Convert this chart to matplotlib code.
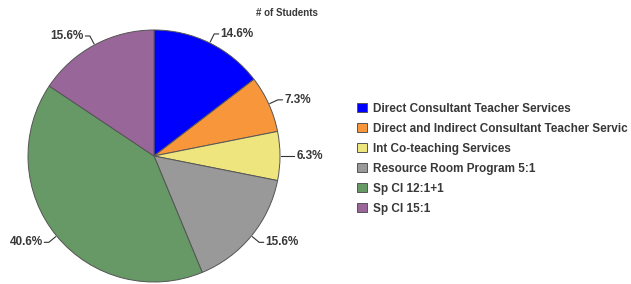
import matplotlib.pyplot as plt
import numpy as np

plt.rcParams['font.family'] = ['Liberation Sans', 'DejaVu Sans']

categories = ["Direct Consultant Teacher Services",
              "Direct and Indirect Consultant Teacher Servic",
              "Int Co-teaching Services",
              "Resource Room Program 5:1",
              "Sp Cl 12:1+1",
              "Sp Cl 15:1"]
students = [14, 7, 6, 15, 39, 15]
colors = ["#0000ff", "#f7963a", "#efe57f", "#999999", "#669966", "#996699"]

W, H = 631, 284
cx, cy, r = 154, 156, 126
fig = plt.figure(figsize=(W / 100, H / 100), dpi=100)
ax = fig.add_axes([(cx - r) / W, (H - cy - r) / H, 2 * r / W, 2 * r / H])

wedges, _ = ax.pie(students, colors=colors, startangle=90, counterclock=False,
                   radius=1, wedgeprops=dict(edgecolor="#555555", linewidth=0.7))
ax.set_xlim(-1, 1)
ax.set_ylim(-1, 1)
ax.axis('off')

txtcol = "#383838"
total = sum(students)
for w, v in zip(wedges, students):
    ang = np.deg2rad((w.theta1 + w.theta2) / 2)
    c, s = np.cos(ang), np.sin(ang)
    side = 1 if c >= 0 else -1
    x0, y0 = 1.01 * c, 1.01 * s
    x1, y1 = 1.08 * c, 1.08 * s
    x2 = x1 + 0.035 * side
    ax.plot([x0, x1, x2], [y0, y1, y1], color="#333333", lw=0.8, clip_on=False)
    pct = round(100.0 * v / total + 1e-9, 1)
    ax.text(x2 + 0.015 * side, y1, "%.1f%%" % pct,
            ha="left" if side > 0 else "right", va="center",
            fontsize=8.5, fontweight="bold", color=txtcol)

fig.text(318 / W, 1 - 13 / H, "# of Students", ha="right", va="center",
         fontsize=7, fontweight="bold", color=txtcol)

leg = fig.legend(wedges, categories, loc="upper left",
                 bbox_to_anchor=(352 / W, 1 - 98 / H), frameon=False,
                 prop=dict(size=8.5, weight="bold"), labelcolor=txtcol,
                 handlelength=0.85, handleheight=0.85, handletextpad=0.55,
                 labelspacing=0.68, borderaxespad=0)

fig.savefig("out.png", dpi=100)
